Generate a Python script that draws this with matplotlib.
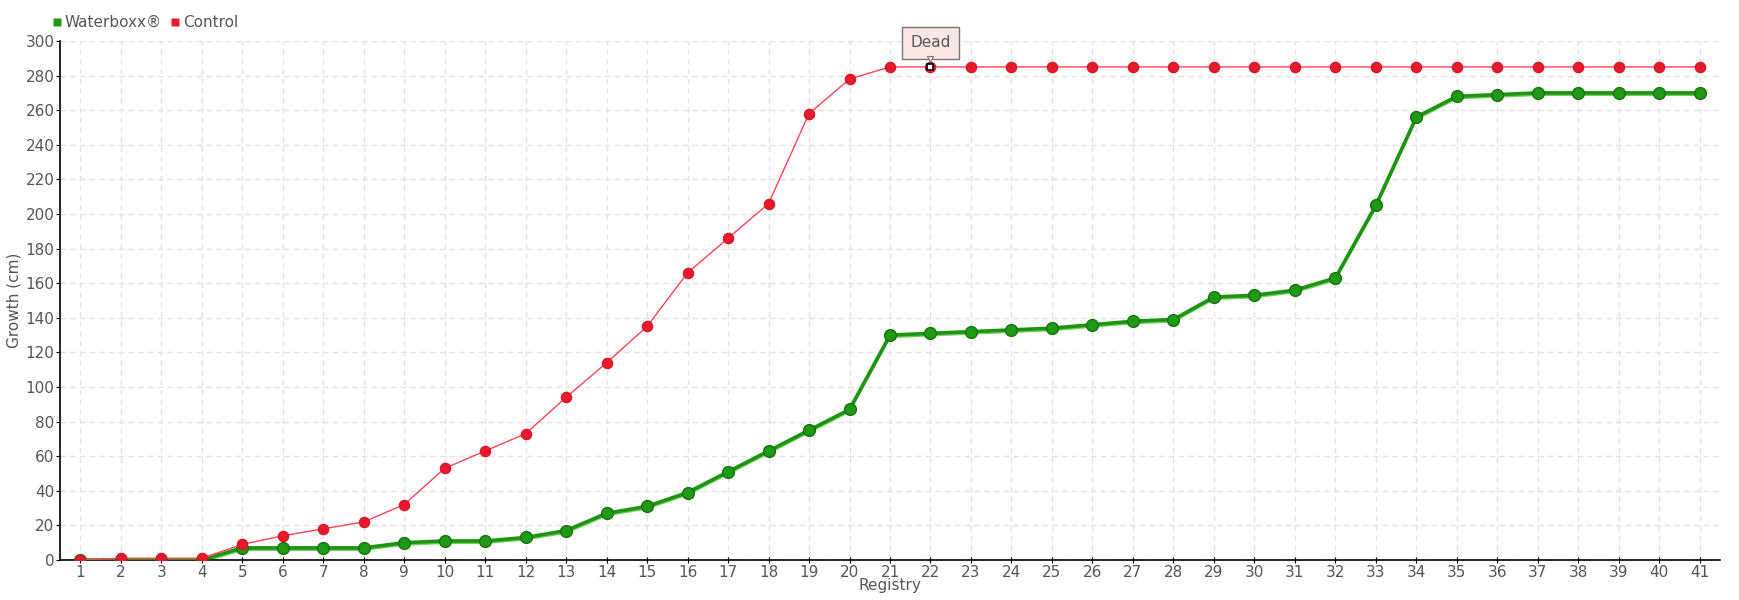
import matplotlib
matplotlib.use("Agg")
import matplotlib.pyplot as plt
import matplotlib.transforms as mtransforms
from matplotlib.lines import Line2D
import numpy as np

plt.rcParams['font.family'] = ['Liberation Sans Narrow', 'DejaVu Sans']

registry = list(range(1, 42))
waterboxx = [0, 0, 0, 0, 7, 7, 7, 7, 10, 11, 11, 13, 17, 27, 31, 39, 51, 63, 75, 87,
             130, 131, 132, 133, 134, 136, 138, 139, 152, 153, 156, 163, 205, 256, 268, 269,
             270, 270, 270, 270, 270]
control = [0, 1, 1, 1, 9, 14, 18, 22, 32, 53, 63, 73, 94, 114, 135, 166, 186, 206, 258, 278,
           285, 285, 285, 285, 285, 285, 285, 285, 285, 285, 285, 285, 285, 285, 285, 285,
           285, 285, 285, 285, 285]
dead_at = 22

text_col = '#555555'

fig = plt.figure(figsize=(17.4, 6), dpi=100)
ax = fig.add_axes([0.0345, 0.0667, 0.954, 0.865])

# green series: thick dark line with a lighter shadow slightly below
shadow = mtransforms.offset_copy(ax.transData, fig=fig, x=0, y=-1.5, units='points')
ax.plot(registry, waterboxx, color='#6fcf5a', lw=1.5, transform=shadow, zorder=2)
ax.plot(registry, waterboxx, color='#1f9412', lw=2.6, marker='o', markersize=8.5,
        markerfacecolor='#1f9a14', markeredgecolor='#16700e', markeredgewidth=1,
        zorder=3, label='Waterboxx®')

ax.plot(registry, control, color='#ff4455', lw=1, marker='o', markersize=7.5,
        markerfacecolor='#e8192c', markeredgecolor='#d01525', markeredgewidth=0.8,
        zorder=4, label='Control')

# "Dead" flag
i = registry.index(dead_at)
ax.plot([dead_at], [control[i]], marker='s', markersize=4, markerfacecolor='white',
        markeredgecolor='black', markeredgewidth=1.2, zorder=6)
ax.annotate('Dead', xy=(dead_at, control[i]), xytext=(0, 12), textcoords='offset points',
            ha='center', va='bottom', fontsize=11, color=text_col, zorder=7,
            bbox=dict(boxstyle='square,pad=0.55', facecolor='#fde6e6', edgecolor='#777777', lw=1))
ax.plot([dead_at], [control[i]], marker='v', markersize=5, markerfacecolor='#fde6e6',
        markeredgecolor='#777777', markeredgewidth=0.8, zorder=8,
        transform=mtransforms.offset_copy(ax.transData, fig=fig, x=0, y=5.5, units='points'))

ax.set_xlim(0.5, 41.5)
ax.set_ylim(0, 300)
ax.set_xticks(registry)
ax.set_yticks(np.arange(0, 301, 20))
ax.grid(True, color='#e2e2e2', linestyle=(0, (4, 3)), lw=1)
ax.set_axisbelow(True)

for s in ['top', 'right']:
    ax.spines[s].set_visible(False)
for s in ['left', 'bottom']:
    ax.spines[s].set_color('black')
    ax.spines[s].set_linewidth(1.2)

ax.tick_params(axis='x', direction='inout', length=5, colors='black', labelcolor=text_col,
               labelsize=11, pad=1)
ax.tick_params(axis='y', direction='out', length=3, colors='black', labelcolor=text_col,
               labelsize=11, pad=1)

ax.set_xlabel('Registry', fontsize=11, color=text_col, labelpad=-1)
ax.set_ylabel('Growth (cm)', fontsize=11, color=text_col, labelpad=3)

handles = [Line2D([], [], marker='s', color='none', markerfacecolor='#1f9a14',
                  markeredgecolor='none', markersize=6),
           Line2D([], [], marker='s', color='none', markerfacecolor='#e8192c',
                  markeredgecolor='none', markersize=6)]
leg = fig.legend(handles, ['Waterboxx®', 'Control'], loc='upper left',
                 bbox_to_anchor=(0.022, 0.998), ncol=2, frameon=False, fontsize=11,
                 handlelength=0.6, handletextpad=0.2, columnspacing=0.6)
for t in leg.get_texts():
    t.set_color(text_col)

fig.savefig('out.png', dpi=100)
